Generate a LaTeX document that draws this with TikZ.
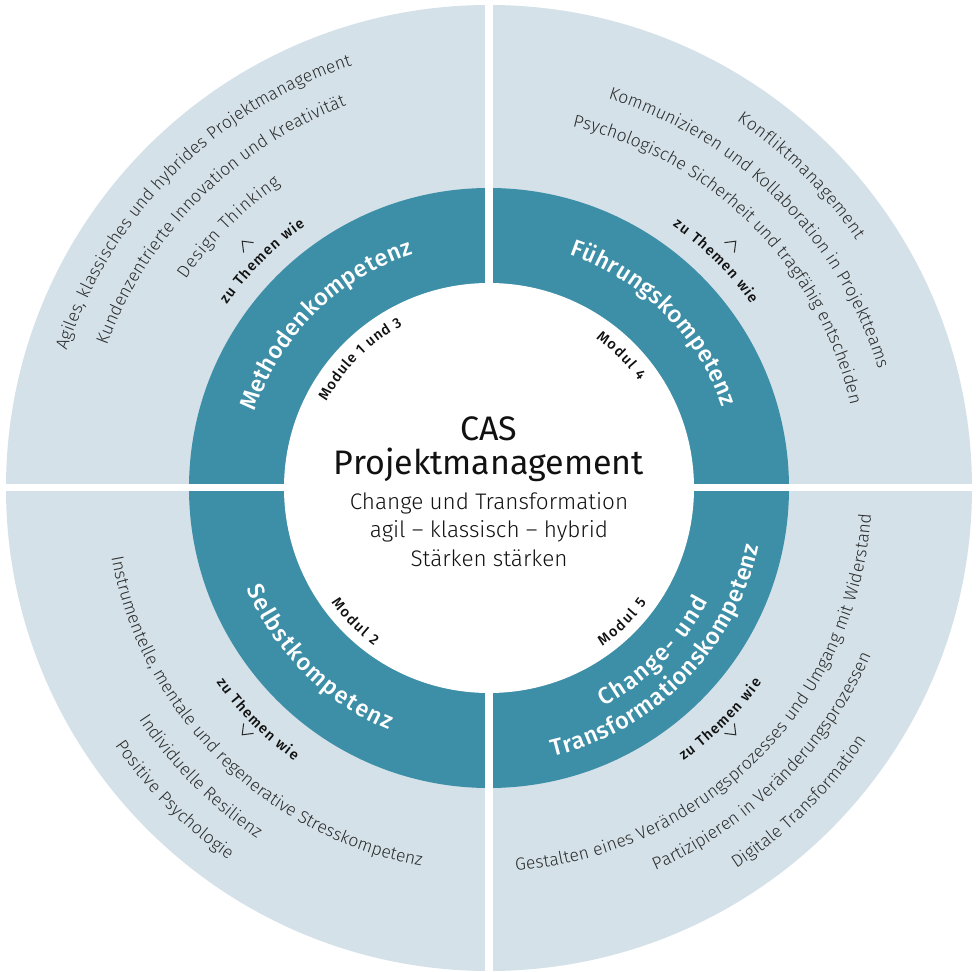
\documentclass[tikz,border=0pt]{standalone}
\usepackage{fontspec}
\setmainfont{Fira Sans}
\newfontfamily\lightf{Fira Sans Light}
\newfontfamily\medf{Fira Sans Medium}
\usetikzlibrary{decorations.text}
\definecolor{ringlight}{HTML}{D4E1E8}
\definecolor{ringteal}{HTML}{3D8EA7}
\definecolor{itemgray}{HTML}{2B2B2B}
\definecolor{labelblack}{HTML}{111111}
% #1 radius, #2 start angle, #3 end angle, #4 format, #5 text
\newcommand\arctext[5]{%
  \path[decorate, decoration={text along path, text={|#4|#5}, text align=fit to path}]
    (#2:#1pt) arc[start angle=#2, end angle=#3, radius=#1pt];}
\newcommand\itemfmt{\lightf\fontsize{17.5}{17.5}\selectfont\color{itemgray}}
\newcommand\compfmt{\medf\fontsize{23.5}{23.5}\selectfont\color{white}}
\newcommand\smallfmt{\medf\fontsize{14.5}{14.5}\selectfont\color{labelblack}}
\tikzset{chev/.style={draw=itemgray, line width=1pt}}
\begin{document}
\begin{tikzpicture}[x=1pt,y=1pt]
\useasboundingbox (-489,-483) rectangle (490,488);
% rings
\fill[ringlight] (0,0) circle[radius=483pt];
\fill[ringteal] (0,0) circle[radius=300pt];
\fill[white] (0,0) circle[radius=205pt];
% quadrant gaps
\fill[white] (-4,-485) rectangle (4,489);
\fill[white] (-490,-3.5) rectangle (491,3.5);
% centre texts
\node[anchor=base, inner sep=0, font=\fontsize{34}{34}\selectfont, text=labelblack] (cas) at (0,47) {CAS};
\node[anchor=base, inner sep=0, font=\fontsize{34}{34}\selectfont, text=labelblack] (pm) at (0,13.7) {Projektmanagement};
\node[anchor=base, inner sep=0, font=\lightf\fontsize{22.5}{22.5}\selectfont, text=labelblack] (sub1) at (0,-21.3) {Change und Transformation};
\node[anchor=base, inner sep=0, font=\lightf\fontsize{22.5}{22.5}\selectfont, text=labelblack] (sub2) at (0,-49.7) {agil – klassisch – hybrid};
\node[anchor=base, inner sep=0, font=\lightf\fontsize{22.5}{22.5}\selectfont, text=labelblack] (sub3) at (0,-78.7) {Stärken stärken};
% upper left: Methodenkompetenz
\arctext{444}{162}{108}{\itemfmt}{Agiles, klassisches und hybrides Projektmanagement}
\arctext{408}{159.5}{110.5}{\itemfmt}{Kundenzentrierte Innovation und Kreativität}
\arctext{368}{145.5}{124.5}{\itemfmt}{Design Thinking}
\arctext{320}{145}{125}{\smallfmt}{zu Themen wie}
\arctext{246}{162}{108}{\compfmt}{Methodenkompetenz}
\arctext{184}{152}{118}{\smallfmt}{Module 1 und 3}
% upper right: Fuehrungskompetenz
\arctext{443}{56}{34}{\itemfmt}{Konfliktmanagement}
\arctext{407}{73}{17}{\itemfmt}{Kommunizieren und Kollaboration in Projektteams}
\arctext{371}{77}{13}{\itemfmt}{Psychologische Sicherheit und tragfähig entscheiden}
\arctext{320}{55}{35}{\smallfmt}{zu Themen wie}
\arctext{247}{71}{19}{\compfmt}{Führungskompetenz}
\arctext{184}{54.5}{35.5}{\smallfmt}{Modul 4}
% lower left: Selbstkompetenz
\arctext{262}{202.5}{247.5}{\compfmt}{Selbstkompetenz}
\arctext{195}{216}{234}{\smallfmt}{Modul 2}
\arctext{335}{215.5}{234.5}{\smallfmt}{zu Themen wie}
\arctext{384}{190.5}{259.5}{\itemfmt}{Instrumentelle, mentale und regenerative Stresskompetenz}
\arctext{420}{213.5}{236.5}{\itemfmt}{Individuelle Resilienz}
\arctext{454}{214.5}{235}{\itemfmt}{Positive Psychologie}
% lower right: Change- und Transformationskompetenz
\arctext{247}{297.6}{332.6}{\compfmt}{Change- und}
\arctext{276}{283.3}{347.8}{\compfmt}{Transformationskompetenz}
\arctext{195}{305.5}{324}{\smallfmt}{Modul 5}
\arctext{335}{305.5}{324.5}{\smallfmt}{zu Themen wie}
\arctext{383}{274}{356}{\itemfmt}{Gestalten eines Veränderungsprozesses und Umgang mit Widerstand}
\arctext{417}{293.5}{335.7}{\itemfmt}{Partizipieren in Veränderungsprozessen}
\arctext{454}{303}{326.2}{\itemfmt}{Digitale Transformation}
% chevrons pointing outward
\foreach \a in {45,135,225,315}
  \draw[chev, rotate=\a] (340,-7) -- (349,0) -- (340,7);
\end{tikzpicture}
\end{document}
